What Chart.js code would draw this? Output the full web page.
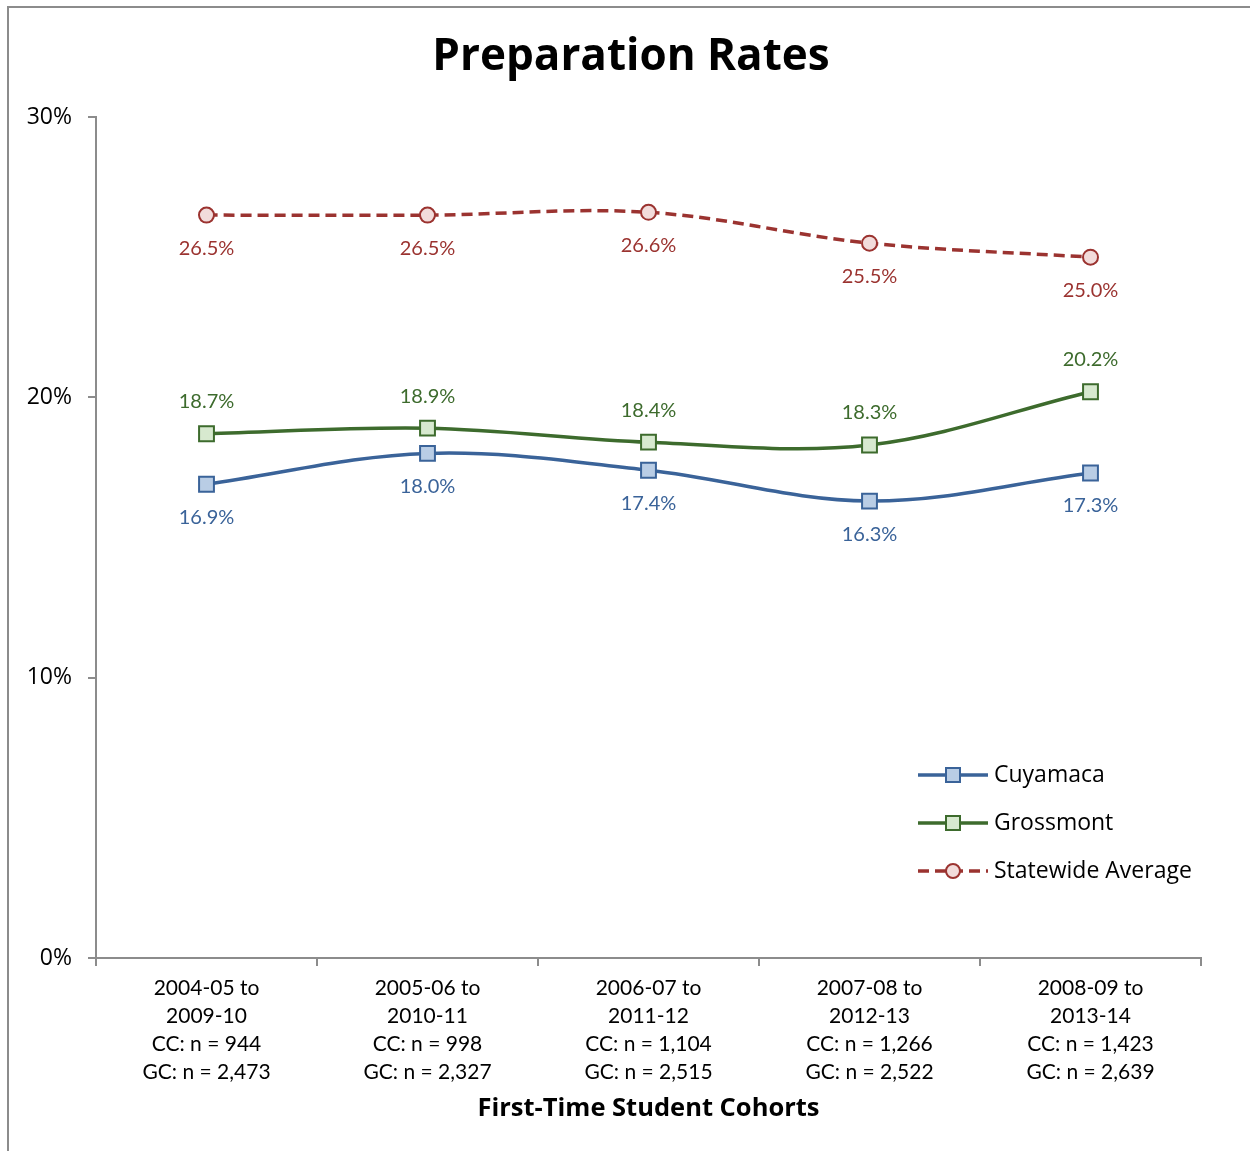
<!DOCTYPE html>
<html lang="en">
<head>
    <meta charset="UTF-8">
    <title>Preparation Rates</title>
    <script src="https://cdn.jsdelivr.net/npm/chart.js@4.4.1/dist/chart.umd.min.js"></script>
    <style>
        html, body {
            margin: 0;
            padding: 0;
            background: #fff;
        }

        .frame {
            position: absolute;
            left: 7px;
            top: 6px;
            width: 1260px;
            height: 1160px;
            border-top: 2px solid #8c8c8c;
            border-left: 2px solid #8c8c8c;
        }

        .chart-container {
            position: absolute;
            left: 0;
            top: 0;
            width: 1250px;
            height: 1151px;
        }
    </style>
</head>
<body>
    <div class="frame"></div>
    <div class="chart-container">
        <canvas id="prepChart"></canvas>
    </div>

    <script>
        // Data
        const cohorts = [
            ['2004-05 to', '2009-10', 'CC: n = 944', 'GC: n = 2,473'],
            ['2005-06 to', '2010-11', 'CC: n = 998', 'GC: n = 2,327'],
            ['2006-07 to', '2011-12', 'CC: n = 1,104', 'GC: n = 2,515'],
            ['2007-08 to', '2012-13', 'CC: n = 1,266', 'GC: n = 2,522'],
            ['2008-09 to', '2013-14', 'CC: n = 1,423', 'GC: n = 2,639']
        ];
        const cuyamaca = [16.9, 18.0, 17.4, 16.3, 17.3];
        const grossmont = [18.7, 18.9, 18.4, 18.3, 20.2];
        const statewide = [26.5, 26.5, 26.6, 25.5, 25.0];
        const yTicks = [0, 10, 20, 30];

        const labelFont = '"Lato", "DejaVu Sans", sans-serif';
        const boldFont = '"Open Sans", "DejaVu Sans", sans-serif';

        // value labels under / over each point
        const pointLabels = {
            id: 'pointLabels',
            afterDatasetsDraw(chart) {
                const ctx = chart.ctx;
                ctx.save();
                ctx.font = '20px ' + labelFont;
                ctx.textAlign = 'center';
                ctx.textBaseline = 'middle';
                chart.data.datasets.forEach((ds, i) => {
                    const meta = chart.getDatasetMeta(i);
                    meta.data.forEach((pt, j) => {
                        ctx.fillStyle = ds.borderColor;
                        const dy = ds.labelSide === 'above' ? -32 : 33;
                        ctx.fillText(ds.data[j].toFixed(1) + '%', pt.x, pt.y + dy);
                    });
                });
                ctx.restore();
            }
        };

        // legend inside the plot, bottom right
        const innerLegend = {
            id: 'innerLegend',
            afterDraw(chart) {
                const ctx = chart.ctx;
                const x0 = 918, x1 = 988, tx = 994;
                const rows = [775, 823, 871];
                ctx.save();
                chart.data.datasets.forEach((ds, i) => {
                    const y = rows[i];
                    ctx.strokeStyle = ds.borderColor;
                    ctx.lineWidth = 3.5;
                    ctx.setLineDash(ds.borderDash || []);
                    ctx.beginPath();
                    ctx.moveTo(x0, y);
                    ctx.lineTo(x1, y);
                    ctx.stroke();
                    ctx.setLineDash([]);
                    ctx.fillStyle = ds.pointBackgroundColor;
                    ctx.lineWidth = 2;
                    const cx = (x0 + x1) / 2;
                    if (ds.pointStyle === 'circle') {
                        ctx.beginPath();
                        ctx.arc(cx, y, 7, 0, Math.PI * 2);
                        ctx.fill();
                        ctx.stroke();
                    } else {
                        ctx.fillRect(cx - 7, y - 7, 14, 14);
                        ctx.strokeRect(cx - 7, y - 7, 14, 14);
                    }
                    ctx.fillStyle = '#000';
                    ctx.font = '23px "Open Sans", sans-serif';
                    ctx.textAlign = 'left';
                    ctx.textBaseline = 'middle';
                    ctx.fillText(ds.label, tx, y);
                });
                ctx.restore();
            }
        };

        // chart title
        const titlePlugin = {
            id: 'bigTitle',
            afterDraw(chart) {
                const ctx = chart.ctx;
                ctx.save();
                ctx.font = 'bold 44px ' + boldFont;
                ctx.fillStyle = '#000';
                ctx.textAlign = 'center';
                ctx.textBaseline = 'middle';
                ctx.fillText('Preparation Rates', 631, 57);
                ctx.restore();
            }
        };

        new Chart(document.getElementById('prepChart'), {
            type: 'line',
            data: {
                labels: cohorts,
                datasets: [{
                    label: 'Cuyamaca',
                    data: cuyamaca,
                    borderColor: '#3a6399',
                    pointBackgroundColor: '#b9cde5',
                    pointBorderColor: '#3a6399',
                    pointStyle: 'rect',
                    pointRadius: 10.5,
                    pointBorderWidth: 2,
                    borderWidth: 3.5,
                    tension: 0.35,
                    labelSide: 'below'
                }, {
                    label: 'Grossmont',
                    data: grossmont,
                    borderColor: '#3d6b2d',
                    pointBackgroundColor: '#d7e9cf',
                    pointBorderColor: '#3d6b2d',
                    pointStyle: 'rect',
                    pointRadius: 10.5,
                    pointBorderWidth: 2,
                    borderWidth: 3.5,
                    tension: 0.35,
                    labelSide: 'above'
                }, {
                    label: 'Statewide Average',
                    data: statewide,
                    borderColor: '#9b3330',
                    borderDash: [11, 6],
                    pointBackgroundColor: '#f2dcdb',
                    pointBorderColor: '#9b3330',
                    pointStyle: 'circle',
                    pointRadius: 7.5,
                    pointBorderWidth: 2,
                    borderWidth: 3.5,
                    tension: 0.35,
                    labelSide: 'below'
                }]
            },
            options: {
                responsive: true,
                maintainAspectRatio: false,
                animation: false,
                layout: {
                    padding: { top: 117, right: 49, bottom: 0, left: 0 }
                },
                plugins: {
                    legend: { display: false },
                    tooltip: { enabled: false }
                },
                scales: {
                    x: {
                        offset: true,
                        grid: {
                            offset: true,
                            drawOnChartArea: false,
                            tickLength: 8,
                            color: '#8c8c8c',
                            lineWidth: 2
                        },
                        border: { color: '#8c8c8c', width: 2 },
                        ticks: {
                            color: '#000',
                            padding: 8,
                            maxRotation: 0,
                            font: { family: labelFont, size: 21, lineHeight: 1.33 }
                        },
                        title: {
                            display: true,
                            text: 'First-Time Student Cohorts',
                            color: '#000',
                            font: { family: boldFont, size: 25.5, weight: 'bold' },
                            padding: { top: 0, bottom: 27 }
                        },
                        afterFit: scale => { scale.height = 193; }
                    },
                    y: {
                        min: 0,
                        max: 30,
                        afterBuildTicks: scale => {
                            scale.ticks = yTicks.map(v => ({ value: v }));
                        },
                        grid: {
                            drawOnChartArea: false,
                            tickLength: 8,
                            color: '#8c8c8c',
                            lineWidth: 2
                        },
                        border: { color: '#8c8c8c', width: 2 },
                        ticks: {
                            color: '#000',
                            padding: 16,
                            font: { family: '"Open Sans", sans-serif', size: 23 },
                            callback: value => value + '%'
                        },
                        afterFit: scale => { scale.width = 96; }
                    }
                }
            },
            plugins: [pointLabels, innerLegend, titlePlugin]
        });
    </script>
</body>
</html>
